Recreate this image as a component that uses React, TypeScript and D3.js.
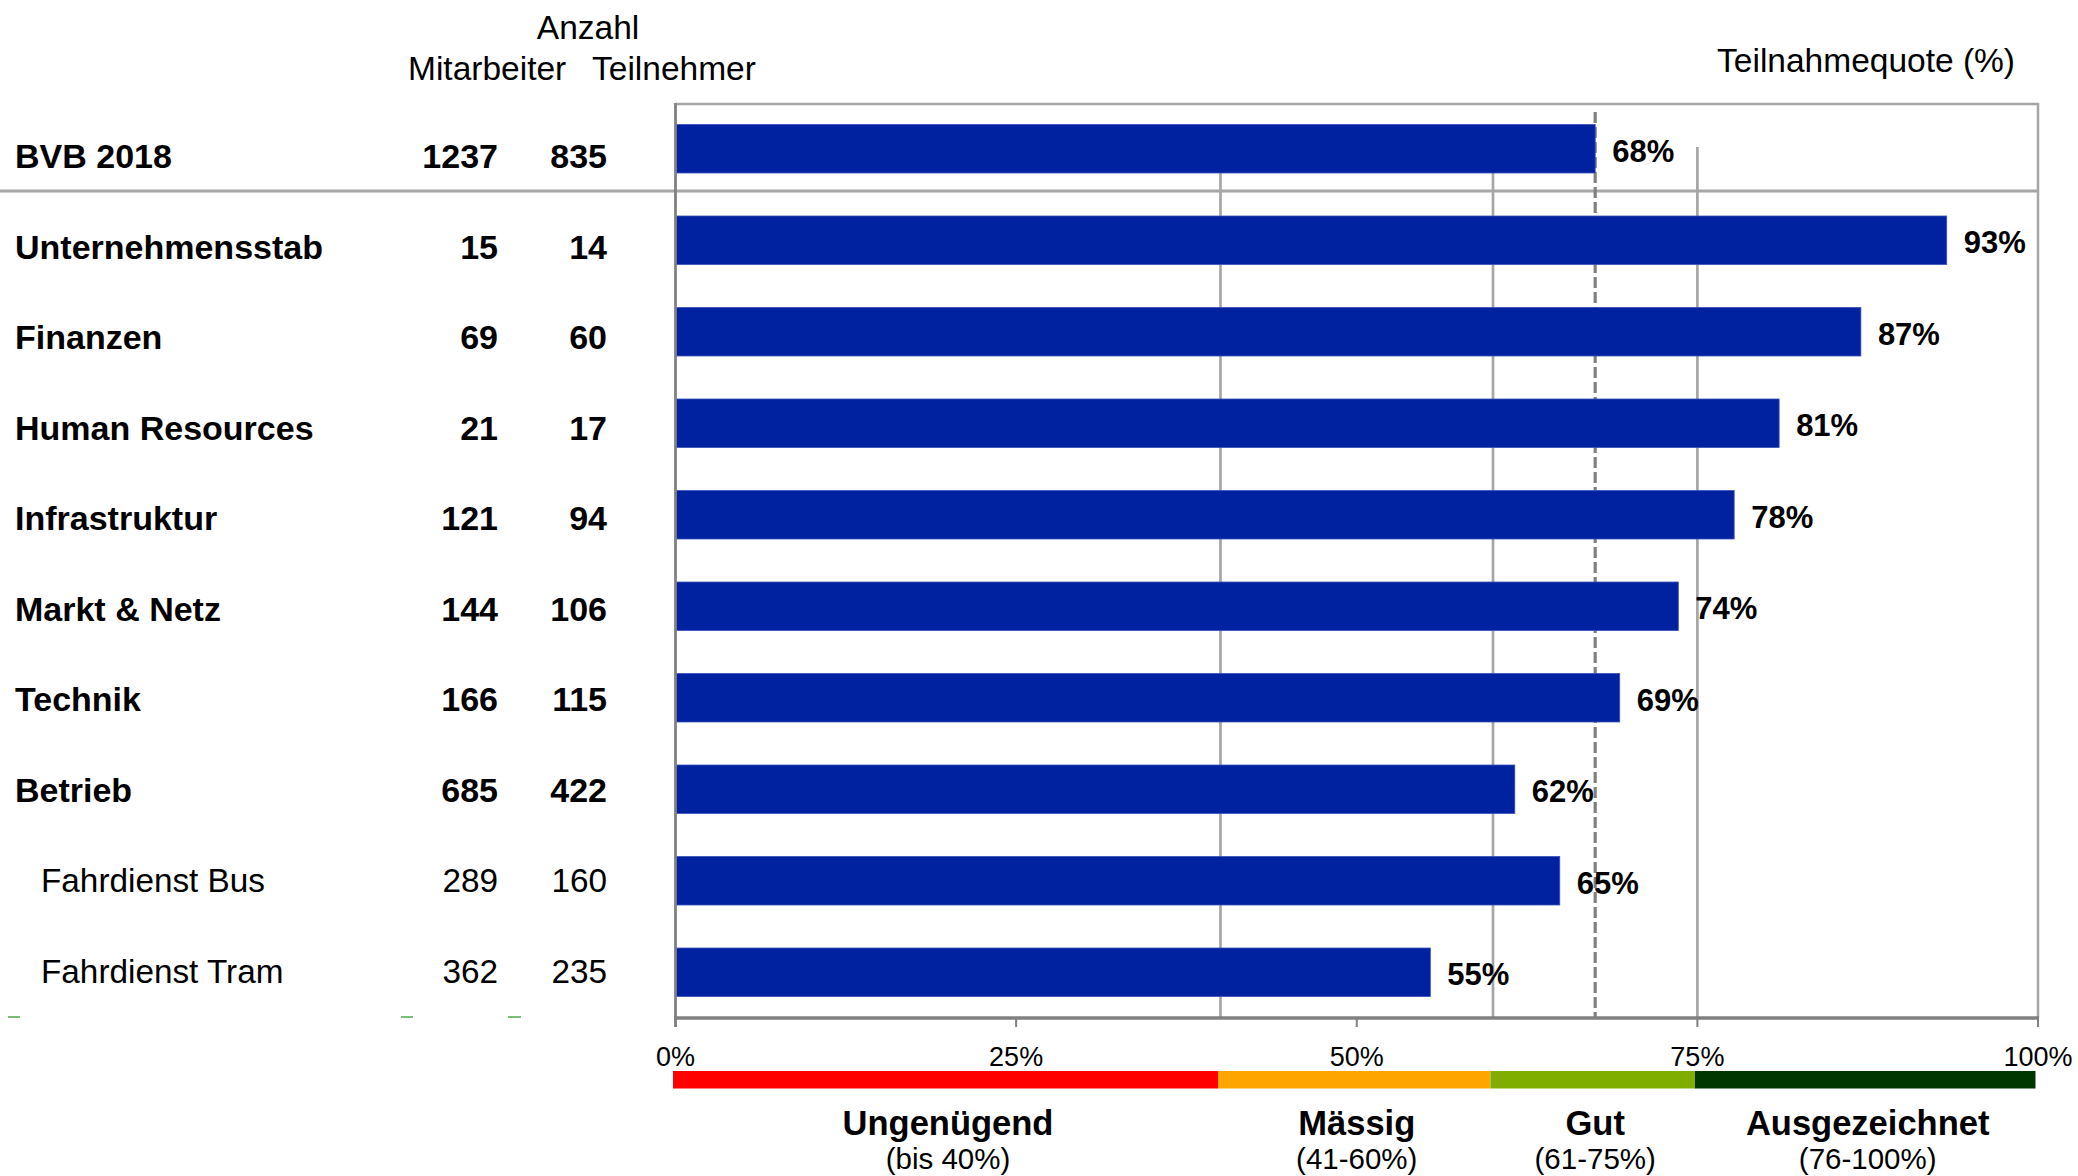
import React from "react";
import * as d3 from "d3";

// ---------- data ----------
const categories = [
  "BVB 2018",
  "Unternehmensstab",
  "Finanzen",
  "Human Resources",
  "Infrastruktur",
  "Markt & Netz",
  "Technik",
  "Betrieb",
  "Fahrdienst Bus",
  "Fahrdienst Tram",
];
const isBold = [true, true, true, true, true, true, true, true, false, false];
const mitarbeiter = [1237, 15, 69, 21, 121, 144, 166, 685, 289, 362];
const teilnehmer = [835, 14, 60, 17, 94, 106, 115, 422, 160, 235];
const quote = [67.5, 93.3, 87.0, 81.0, 77.7, 73.6, 69.3, 61.6, 64.9, 55.4];
const averageQuote = 67.5;
const xTicks = [0, 25, 50, 75, 100];
const gridValues = [40, 60, 75];
const ratingBreaks = [0, 40, 60, 75, 100];
const ratingLabels = ["Ungenügend", "Mässig", "Gut", "Ausgezeichnet"];
const ratingRanges = ["(bis 40%)", "(41-60%)", "(61-75%)", "(76-100%)"];
const ratingColors = ["#ff0000", "#ffa500", "#7fad00", "#003600"];

const W = 2078;
const H = 1176;
const FONT = "'Liberation Sans', Arial, Helvetica, sans-serif";

export default function App() {
  const plotTop = 103;
  const plotBottom = 1018;
  const x = d3.scaleLinear().domain([0, 100]).range([675.5, 2038]);
  const y = d3
    .scaleBand<string>()
    .domain(categories)
    .range([plotTop, plotBottom])
    .paddingInner(0.47)
    .paddingOuter(0.235);
  const textY = d3.scalePoint<string>().domain(categories).range([168, 983]);
  const fmt = (v: number) => `${Math.round(v)}%`;

  const gray = "#a6a6a6";
  const dark = "#808080";

  return (
    <svg
      width={W}
      height={H}
      style={{ position: "absolute", left: 0, top: 0, background: "#fff" }}
      fontFamily={FONT}
    >
      <rect x={0} y={0} width={W} height={H} fill="#fff" />

      {/* headers */}
      <text x={588} y={39} fontSize={33.5} textAnchor="middle">
        Anzahl
      </text>
      <text x={408} y={80} fontSize={33.5}>
        Mitarbeiter
      </text>
      <text x={592} y={80} fontSize={33.5}>
        Teilnehmer
      </text>
      <text x={2015} y={72} fontSize={33.5} textAnchor="end">
        Teilnahmequote (%)
      </text>

      {/* plot frame: top and right borders */}
      <line x1={x(0)} x2={x(100)} y1={plotTop + 1} y2={plotTop + 1} stroke={gray} strokeWidth={2.5} />
      <line x1={x(100)} x2={x(100)} y1={plotTop} y2={plotBottom} stroke={gray} strokeWidth={2.5} />

      {/* grid lines */}
      {gridValues.map((g) => (
        <line
          key={g}
          x1={x(g)}
          x2={x(g)}
          y1={g === 75 ? 147 : 140}
          y2={plotBottom}
          stroke={gray}
          strokeWidth={2.7}
        />
      ))}

      {/* separator */}
      <line x1={0} x2={x(100)} y1={191} y2={191} stroke={gray} strokeWidth={3} />

      {/* average dashed line */}
      <line
        x1={x(averageQuote)}
        x2={x(averageQuote)}
        y1={112}
        y2={plotBottom}
        stroke={dark}
        strokeWidth={3.2}
        strokeDasharray="11,4"
      />

      {/* bars */}
      {categories.map((c, i) => (
        <rect
          key={c}
          x={x(0)}
          y={y(c)!}
          width={x(quote[i]) - x(0)}
          height={y.bandwidth()}
          fill="#0021a0"
          stroke="#3a52b8"
          strokeWidth={0.8}
        />
      ))}

      {/* value labels */}
      {categories.map((c, i) => (
        <text
          key={c}
          x={x(quote[i]) + 17}
          y={y(c)! + y.bandwidth() / 2 + 13}
          fontSize={31}
          fontWeight="bold"
        >
          {fmt(quote[i])}
        </text>
      ))}

      {/* axes */}
      <line x1={x(0)} x2={x(0)} y1={plotTop} y2={plotBottom + 9} stroke={dark} strokeWidth={2.8} />
      <line x1={x(0) - 1.5} x2={x(100) + 1} y1={plotBottom} y2={plotBottom} stroke={dark} strokeWidth={3.5} />
      {xTicks.map((t) => (
        <line key={t} x1={x(t)} x2={x(t)} y1={plotBottom} y2={plotBottom + 9} stroke={dark} strokeWidth={2} />
      ))}
      {xTicks.map((t) => (
        <text key={t} x={x(t)} y={1066} fontSize={27} textAnchor="middle">
          {`${t}%`}
        </text>
      ))}

      {/* row labels and numbers */}
      {categories.map((c, i) => (
        <g key={c} fontWeight={isBold[i] ? "bold" : "normal"} fontSize={isBold[i] ? 34 : 33.3}>
          <text x={isBold[i] ? 15 : 41} y={textY(c)!}>
            {c}
          </text>
          <text x={498} y={textY(c)!} textAnchor="end">
            {mitarbeiter[i]}
          </text>
          <text x={607} y={textY(c)!} textAnchor="end">
            {teilnehmer[i]}
          </text>
        </g>
      ))}

      {/* small green marks */}
      {[
        [8, 20],
        [401, 413],
        [508, 521],
      ].map(([a, b], k) => (
        <line key={k} x1={a} x2={b} y1={1017} y2={1017} stroke="#4fa84a" strokeWidth={1.5} />
      ))}

      {/* rating scale */}
      {ratingLabels.map((lab, i) => {
        const x0 = x(ratingBreaks[i]);
        const x1 = x(ratingBreaks[i + 1]);
        const cx = (x0 + x1) / 2;
        return (
          <g key={lab}>
            <rect x={x0 - 2.5} y={1071} width={x1 - x0} height={17.5} fill={ratingColors[i]} />
            <text x={cx} y={1135} fontSize={34.5} fontWeight="bold" textAnchor="middle">
              {lab}
            </text>
            <text x={cx} y={1169} fontSize={29.5} textAnchor="middle">
              {ratingRanges[i]}
            </text>
          </g>
        );
      })}
    </svg>
  );
}
